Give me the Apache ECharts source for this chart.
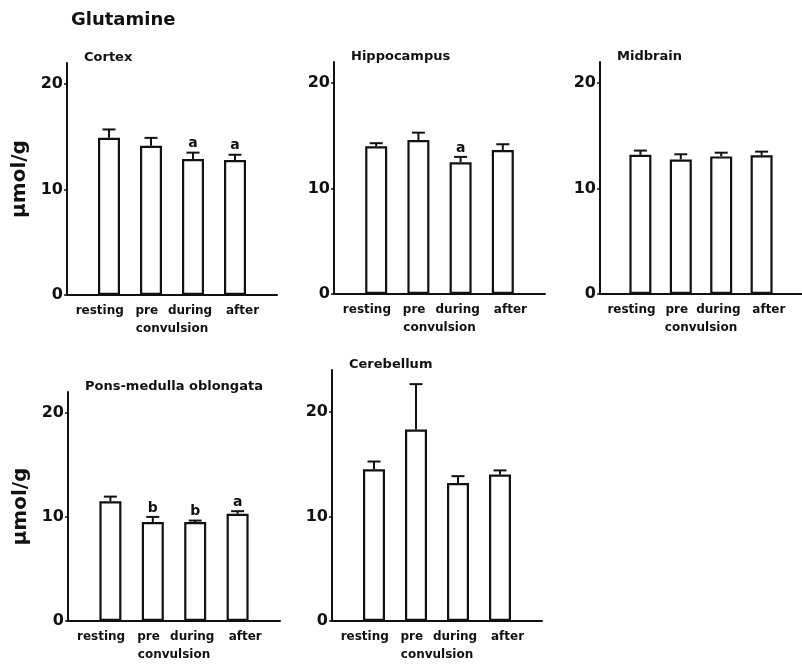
<!DOCTYPE html>
<html>
<head>
<meta charset="utf-8">
<script src="https://cdn.jsdelivr.net/npm/echarts@6/dist/echarts.min.js"></script>
<style>
  html, body { margin: 0; padding: 0; background: #fff; }
  #chart { width: 802px; height: 664px; }
</style>
</head>
<body>
<div id="chart"></div>
<script>
// bars sit at x = 1..4 on a 0..5 value axis
const categories = ['resting', 'pre', 'during', 'after']
const yTicks = [0, 10, 20]

const cortexMean = [14.9, 14.15, 12.9, 12.8]
const cortexSem = [0.8, 0.75, 0.6, 0.5]
const cortexSig = ['', '', 'a', 'a']

const hippoMean = [14.0, 14.6, 12.5, 13.65]
const hippoSem = [0.3, 0.7, 0.5, 0.55]
const hippoSig = ['', '', 'a', '']

const midbrainMean = [13.2, 12.75, 13.05, 13.15]
const midbrainSem = [0.4, 0.5, 0.35, 0.35]
const midbrainSig = ['', '', '', '']

const ponsMean = [11.5, 9.5, 9.5, 10.3]
const ponsSem = [0.45, 0.5, 0.15, 0.25]
const ponsSig = ['', 'b', 'b', 'a']

const cerebMean = [14.5, 18.3, 13.2, 14.0]
const cerebSem = [0.75, 4.35, 0.65, 0.4]
const cerebSig = ['', '', '', '']

const font = 'DejaVu Sans'
// the printed labels are spread a bit wider than the bars
const labelSpots = [0.78, 1.9, 2.93, 4.18]

const panels = [
  { name: 'Cortex', mean: cortexMean, sem: cortexSem, sig: cortexSig, left: 67, top: 63, width: 210, height: 232, max: 22, unit: true },
  { name: 'Hippocampus', mean: hippoMean, sem: hippoSem, sig: hippoSig, left: 334, top: 62, width: 211, height: 232, max: 22 },
  { name: 'Midbrain', mean: midbrainMean, sem: midbrainSem, sig: midbrainSig, left: 600, top: 62, width: 210, height: 232, max: 22 },
  { name: 'Pons-medulla oblongata', mean: ponsMean, sem: ponsSem, sig: ponsSig, left: 68, top: 392, width: 212, height: 229, max: 22, unit: true },
  { name: 'Cerebellum', mean: cerebMean, sem: cerebSem, sig: cerebSig, left: 332, top: 370, width: 210, height: 251, max: 24 }
]

const chart = echarts.init(document.getElementById('chart'))

const titles = [{
  text: 'Glutamine',
  left: 66,
  top: 6,
  textStyle: { fontFamily: font, fontSize: 18, fontWeight: 'bold', color: '#111' }
}]
const grids = []
const xAxes = []
const yAxes = []
const series = []

panels.forEach((p, i) => {
  titles.push({
    text: p.name,
    left: p.left + 17,
    top: p.top - 12,
    padding: 0,
    textStyle: { fontFamily: font, fontSize: 13, fontWeight: 'bold', color: '#111' }
  })
  grids.push({ left: p.left, top: p.top, width: p.width, height: p.height })
  xAxes.push({
    gridIndex: i,
    type: 'value',
    min: 0,
    max: 5,
    interval: 1,
    name: 'convulsion',
    nameLocation: 'middle',
    nameGap: 28,
    nameTextStyle: { fontFamily: font, fontSize: 12, fontWeight: 'bold', color: '#111' },
    axisLine: { show: true, lineStyle: { color: '#111', width: 2 } },
    axisTick: { show: false },
    splitLine: { show: false },
    axisLabel: {
      margin: 10,
      customValues: labelSpots,
      fontFamily: font,
      fontSize: 12,
      fontWeight: 'bold',
      color: '#111',
      formatter: v => categories[Math.round(v) - 1] || ''
    }
  })
  yAxes.push({
    gridIndex: i,
    type: 'value',
    min: 0,
    max: p.max,
    interval: 10,
    name: p.unit ? 'μmol/g' : '',
    nameLocation: 'middle',
    nameRotate: 90,
    nameGap: 37,
    nameTextStyle: { fontFamily: font, fontSize: 20, fontWeight: 'bold', color: '#111' },
    axisLine: { show: true, lineStyle: { color: '#111', width: 2 } },
    axisTick: { show: true, length: 3, customValues: yTicks, lineStyle: { color: '#111', width: 1.5 } },
    splitLine: { show: false },
    axisLabel: {
      margin: 4,
      customValues: yTicks,
      fontFamily: font,
      fontSize: 16,
      fontWeight: 'bold',
      color: '#111'
    }
  })
  series.push({
    type: 'bar',
    xAxisIndex: i,
    yAxisIndex: i,
    barWidth: 22,
    itemStyle: { color: '#fff', borderColor: '#111', borderWidth: 2.2 },
    data: p.mean.map((m, k) => [k + 1, m]),
    silent: true,
    animation: false
  })
  // error bars and significance letters
  series.push({
    type: 'custom',
    xAxisIndex: i,
    yAxisIndex: i,
    silent: true,
    animation: false,
    z: 3,
    data: p.mean.map((m, k) => [k + 1, m, m + p.sem[k]]),
    renderItem: (params, api) => {
      const x = api.value(0)
      const base = api.coord([x, api.value(1)])
      const top = api.coord([x, api.value(2)])
      const style = { stroke: '#111', lineWidth: 2 }
      const children = [
        { type: 'line', shape: { x1: base[0], y1: base[1], x2: top[0], y2: top[1] }, style },
        { type: 'line', shape: { x1: top[0] - 6.5, y1: top[1], x2: top[0] + 6.5, y2: top[1] }, style }
      ]
      const s = p.sig[params.dataIndex]
      if (s) {
        children.push({
          type: 'text',
          style: {
            text: s, x: top[0], y: top[1] - 2,
            align: 'center', verticalAlign: 'bottom',
            fontFamily: font, fontSize: 14, fontWeight: 'bold', fill: '#111'
          }
        })
      }
      return { type: 'group', children }
    }
  })
})

chart.setOption({
  backgroundColor: '#fff',
  animation: false,
  title: titles,
  grid: grids,
  xAxis: xAxes,
  yAxis: yAxes,
  series
})
</script>
</body>
</html>
